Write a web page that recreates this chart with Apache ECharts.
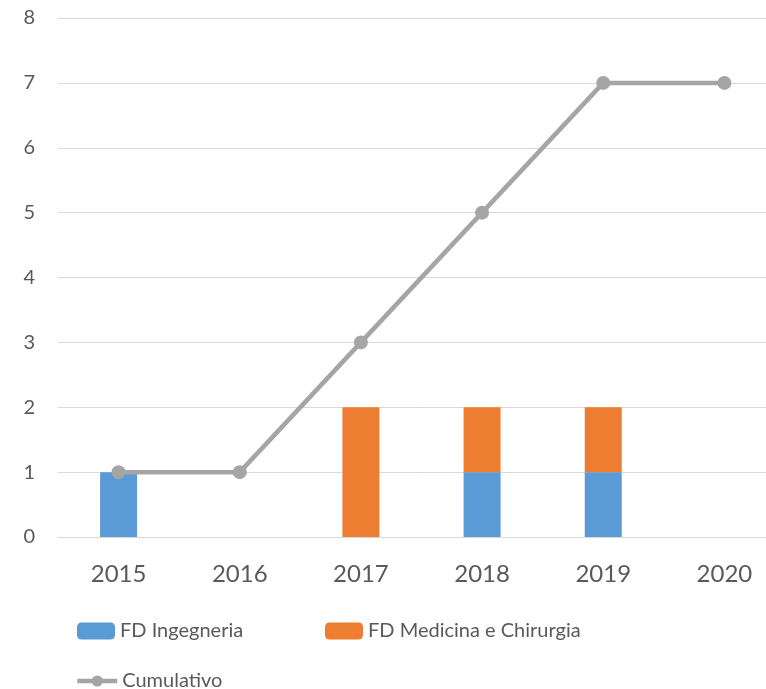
<!DOCTYPE html>
<html><head><meta charset="utf-8">
<script src="https://cdn.jsdelivr.net/npm/echarts@6/dist/echarts.min.js"></script>
<style>html,body{margin:0;padding:0;background:#fff;overflow:hidden;width:766px;height:689px;}#c{width:785px;height:689px;}</style>
</head><body><div id="c"></div>
<script>
const categories = ['2015','2016','2017','2018','2019','2020'];
const ingegneria = [1,0,0,1,1,0];
const medicina = [0,0,2,1,1,0];
const cumulativo = [1,1,3,5,7,7];
const yTicks = [0,1,2,3,4,5,6,7,8];

const font = 'Lato, sans-serif';
const chart = echarts.init(document.getElementById('c'));
chart.setOption({
  animation:false,
  textStyle:{fontFamily:font},
  grid:{left:58,right:0,top:18,height:519,containLabel:false},
  legend:[
    {data:['FD Ingegneria'],left:77,top:621,padding:0,itemWidth:38,itemHeight:17,textStyle:{fontSize:20,color:'#595959',fontFamily:font}},
    {data:['FD Medicina e Chirurgia'],left:325,top:621,padding:0,itemWidth:38,itemHeight:17,textStyle:{fontSize:20,color:'#595959',fontFamily:font}},
    {data:['Cumulativo'],left:75,top:671,padding:0,itemWidth:40,itemHeight:14,
      lineStyle:{width:4.5,color:'#A5A5A5'},itemStyle:{color:'#A5A5A5'},
      textStyle:{fontSize:20,color:'#595959',fontFamily:font}}
  ],
  xAxis:{type:'category',data:categories,
    axisLine:{lineStyle:{color:'#D9D9D9',width:1}},axisTick:{show:false},
    axisLabel:{color:'#595959',fontSize:24,margin:25,fontFamily:font}},
  yAxis:{type:'value',min:yTicks[0],max:yTicks[yTicks.length-1],interval:1,
    axisLine:{show:false},axisTick:{show:false},
    splitLine:{lineStyle:{color:'#D9D9D9',width:1}},
    axisLabel:{color:'#595959',fontSize:20,margin:23,fontFamily:font}},
  series:[
    {name:'FD Ingegneria',type:'bar',stack:'a',data:ingegneria,barWidth:37,itemStyle:{color:'#5B9BD5'}},
    {name:'FD Medicina e Chirurgia',type:'bar',stack:'a',data:medicina,barWidth:37,itemStyle:{color:'#ED7D31'}},
    {name:'Cumulativo',type:'line',data:cumulativo,symbol:'circle',symbolSize:14,
      lineStyle:{color:'#A5A5A5',width:4.5},itemStyle:{color:'#A5A5A5'}}
  ]
});
</script></body></html>
